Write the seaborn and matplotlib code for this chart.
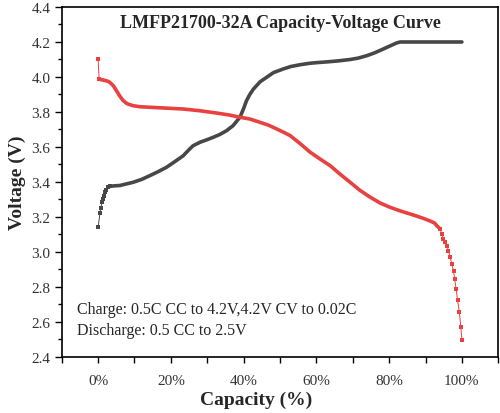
import matplotlib
matplotlib.use("Agg")
import matplotlib.pyplot as plt
import seaborn as sns
import pandas as pd
from matplotlib.ticker import MultipleLocator, FuncFormatter

# charge curve (capacity %, voltage V)
charge_cap = [0.0, 0.5, 0.7, 1.1, 1.4, 1.7, 2.0, 2.3, 2.8, 3.2, 4.5, 6.0, 9.6, 12.0,
              14.2, 16.5, 18.8, 21.0, 23.4, 25.0, 26.1, 28.0, 30.0, 31.6, 33.5, 35.3,
              37.1, 39.0, 40.0, 40.8, 41.7, 42.7, 44.5, 46.3, 48.2, 50.9, 53.0, 55.5,
              58.0, 60.1, 63.3, 66.0, 69.3, 71.5, 73.9, 76.0, 78.4, 80.5, 82.0, 83.0,
              90.0, 100.0]
charge_v = [3.14, 3.22, 3.25, 3.284, 3.303, 3.322, 3.341, 3.356, 3.37, 3.375, 3.378,
            3.38, 3.398, 3.415, 3.436, 3.459, 3.484, 3.515, 3.55, 3.585, 3.607, 3.627,
            3.642, 3.655, 3.672, 3.693, 3.722, 3.77, 3.82, 3.865, 3.90, 3.931, 3.972,
            3.998, 4.025, 4.046, 4.060, 4.07, 4.078, 4.082, 4.087, 4.092, 4.10, 4.108,
            4.122, 4.138, 4.16, 4.18, 4.194, 4.20, 4.20, 4.20]

# discharge curve
dis_cap = [0.0, 0.3, 1.5, 2.5, 3.2, 4.2, 5.1, 6.0, 6.9, 8.0, 9.6, 11.5, 14.2, 18.8,
           23.4, 28.0, 32.6, 36.0, 39.0, 41.7, 44.5, 46.8, 49.1, 51.0, 52.8, 55.5,
           58.3, 61.1, 63.8, 66.5, 69.3, 72.0, 74.8, 77.5, 80.3, 83.0, 85.8, 87.6,
           89.4, 91.5, 92.5, 93.1, 93.6, 94.0, 94.5, 94.9, 95.4, 95.9, 96.3, 96.8,
           97.2, 97.7, 98.0, 98.4, 98.8, 99.3, 99.7, 100.0]
dis_v = [4.10, 3.987, 3.982, 3.977, 3.97, 3.95, 3.92, 3.89, 3.865, 3.847, 3.836,
         3.830, 3.827, 3.822, 3.817, 3.807, 3.794, 3.783, 3.77, 3.76, 3.741, 3.725,
         3.703, 3.684, 3.665, 3.62, 3.57, 3.53, 3.493, 3.445, 3.398, 3.352, 3.313,
         3.28, 3.255, 3.235, 3.217, 3.205, 3.192, 3.175, 3.165, 3.15, 3.14, 3.131,
         3.103, 3.074, 3.055, 3.036, 3.007, 2.97, 2.931, 2.893, 2.846, 2.789, 2.727,
         2.655, 2.57, 2.499]

notes = ["Charge: 0.5C CC to 4.2V,4.2V CV to 0.02C", "Discharge: 0.5 CC to 2.5V"]
title = "LMFP21700-32A Capacity-Voltage Curve"

RED = "#e8413f"
GRAY = "#474747"

sns.set_style("white")
plt.rcParams["font.family"] = ["Liberation Serif", "DejaVu Serif"]

charge_df = pd.DataFrame({"cap": charge_cap, "v": charge_v})
dis_df = pd.DataFrame({"cap": dis_cap, "v": dis_v})

fig = plt.figure(figsize=(5.0, 4.14), dpi=100)
ax = fig.add_axes([0.1234, 0.1353, 0.8732, 0.8454])

# sparse ends drawn thin with markers, dense middle drawn thick
ch_head = charge_df[charge_df.cap <= 3.2]
ch_body = charge_df[charge_df.cap >= 3.2]
sns.lineplot(data=ch_head, x="cap", y="v", ax=ax, color=GRAY, lw=0.7,
             marker="s", markersize=2.5, markeredgewidth=0, sort=False)
sns.lineplot(data=ch_body, x="cap", y="v", ax=ax, color=GRAY, lw=2.6, sort=False)

ds_head = dis_df[dis_df.cap <= 0.3]
ds_body = dis_df[(dis_df.cap >= 0.3) & (dis_df.cap <= 94.0)]
ds_tail = dis_df[dis_df.cap >= 94.0]
sns.lineplot(data=ds_head, x="cap", y="v", ax=ax, color=RED, lw=0.7,
             marker="s", markersize=2.5, markeredgewidth=0, sort=False)
sns.lineplot(data=ds_body, x="cap", y="v", ax=ax, color=RED, lw=2.6, sort=False)
sns.lineplot(data=ds_tail, x="cap", y="v", ax=ax, color=RED, lw=0.7,
             marker="s", markersize=2.8, markeredgewidth=0, sort=False)

ax.set_xlim(-10, 110)
ax.set_ylim(2.4, 4.4)
ax.xaxis.set_major_locator(MultipleLocator(20))
ax.xaxis.set_minor_locator(MultipleLocator(10))
ax.yaxis.set_major_locator(MultipleLocator(0.2))
ax.yaxis.set_minor_locator(MultipleLocator(0.1))
ax.xaxis.set_major_formatter(FuncFormatter(
    lambda v, p: f"{v:.0f}%" if 0 <= v <= 100 else ""))
ax.yaxis.set_major_formatter(FuncFormatter(lambda v, p: f"{v:.1f}"))

ax.tick_params(axis="both", which="both", direction="out", colors="black",
               labelsize=11, labelcolor="#333333")
ax.tick_params(axis="x", which="both", length=4, width=1, pad=8)
ax.tick_params(axis="y", which="major", length=5, width=1, pad=3)
ax.tick_params(axis="y", which="minor", length=3, width=1)
ax.tick_params(bottom=True, left=True, top=False, right=False, which="both")

for s in ax.spines.values():
    s.set_color("black")
    s.set_linewidth(1.2)

ax.set_xlabel("Capacity (%)", fontsize=14, fontweight="bold")
ax.set_ylabel("Voltage (V)", fontsize=14, fontweight="bold")
ax.xaxis.set_label_coords(0.446, -0.097)
ax.yaxis.set_label_coords(-0.082, 0.5)

ax.text(0.5, 0.955, title, transform=ax.transAxes, ha="center", va="center",
        fontsize=13, fontweight="bold")
ax.text(0.035, 0.137, notes[0], transform=ax.transAxes, ha="left", va="center",
        fontsize=11.5)
ax.text(0.035, 0.077, notes[1], transform=ax.transAxes, ha="left", va="center",
        fontsize=11.5)

fig.savefig("out.png", dpi=100)
